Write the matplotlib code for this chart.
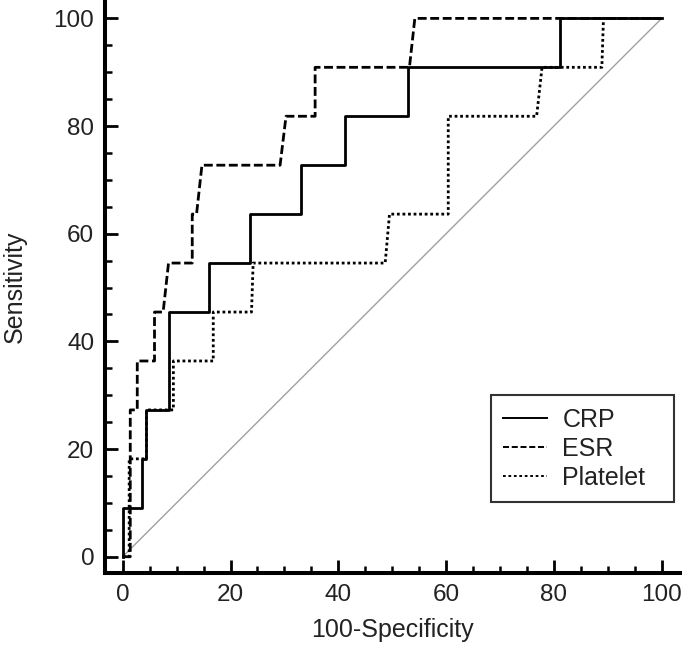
import numpy as np
import matplotlib
matplotlib.use('Agg')
import matplotlib.pyplot as plt
from matplotlib.lines import Line2D
from matplotlib.ticker import MultipleLocator

plt.rcParams['font.family'] = ['Liberation Sans', 'DejaVu Sans']

# curvas ROC (100-especificidad, sensibilidad)
crp_x = [0, 0, 3.6, 3.6, 4.3, 4.3, 8.5, 8.5, 16.0, 16.0, 23.7, 23.7, 33.1, 33.1,
         41.3, 41.3, 52.9, 52.9, 81.2, 81.2, 100]
crp_y = [0, 9.09, 9.09, 18.18, 18.18, 27.27, 27.27, 45.45, 45.45, 54.55, 54.55,
         63.64, 63.64, 72.73, 72.73, 81.82, 81.82, 90.91, 90.91, 100, 100]

esr_x = [0, 1.4, 1.4, 2.7, 2.7, 5.9, 5.9, 7.5, 8.5, 12.9, 12.9, 13.7, 14.7, 29.2,
         30.3, 35.7, 35.7, 53.2, 54.2, 100]
esr_y = [0, 0, 27.27, 27.27, 36.36, 36.36, 45.45, 45.45, 54.55, 54.55, 63.64,
         63.64, 72.73, 72.73, 81.82, 81.82, 90.91, 90.91, 100, 100]

plt_x = [0, 1.2, 1.2, 4.4, 4.4, 9.4, 9.4, 16.8, 16.8, 23.9, 24.2, 48.7, 49.5,
         60.4, 60.4, 76.8, 77.8, 88.9, 89.2, 100]
plt_y = [0, 0, 18.18, 18.18, 27.27, 27.27, 36.36, 36.36, 45.45, 45.45, 54.55,
         54.55, 63.64, 63.64, 81.82, 81.82, 90.91, 90.91, 100, 100]

diag = [0, 100]
leyenda = ['CRP', 'ESR', 'Platelet']

fig = plt.figure(figsize=(6.85, 6.49), dpi=100)
ax = fig.add_axes([105.3/685, (649-572.7)/649, (680-105.3)/685, (572.7-1.7)/649])

ax.plot(diag, diag, color='#a0a0a0', lw=1.0)
ax.plot(plt_x, plt_y, color='black', lw=2, linestyle=(0, (1, 1)))
ax.plot(esr_x, esr_y, color='black', lw=2, linestyle=(0, (3.2, 1.3)))
ax.plot(crp_x, crp_y, color='black', lw=2, linestyle='-')

ax.set_xlim(-3.23, 103.4)
ax.set_ylim(-2.97, 103.1)

for s in ['top', 'right']:
    ax.spines[s].set_visible(False)
for s in ['left', 'bottom']:
    ax.spines[s].set_linewidth(2.9)

ax.xaxis.set_major_locator(MultipleLocator(20))
ax.xaxis.set_minor_locator(MultipleLocator(5))
ax.yaxis.set_major_locator(MultipleLocator(20))
ax.yaxis.set_minor_locator(MultipleLocator(5))
ax.tick_params(which='major', direction='in', length=9.5, width=2, pad=8,
               labelsize=17.5, labelcolor='#222222')
ax.tick_params(which='minor', direction='in', length=4.8, width=1.8)

ax.set_xlabel('100-Specificity', fontsize=18, color='#222222', labelpad=9)
ax.set_ylabel('Sensitivity', fontsize=18, color='#222222', labelpad=19)

handles = [Line2D([], [], color='black', lw=1.4, linestyle='-'),
           Line2D([], [], color='black', lw=1.4, linestyle=(0, (3.1, 1.4))),
           Line2D([], [], color='black', lw=1.4, linestyle=(0, (1.4, 1.4)))]
leg = ax.legend(handles, leyenda, loc='upper left',
                bbox_to_anchor=(0.671, 0.122, 0.3184, 0.189), mode='expand',
                borderaxespad=0, fontsize=18, fancybox=False, frameon=True,
                handlelength=1.76, handletextpad=0.6, labelspacing=0.2,
                borderpad=0.5)
leg.get_frame().set_edgecolor('black')
leg.get_frame().set_linewidth(1.5)
for t in leg.get_texts():
    t.set_color('#222222')

fig.savefig('out.png', dpi=100)
